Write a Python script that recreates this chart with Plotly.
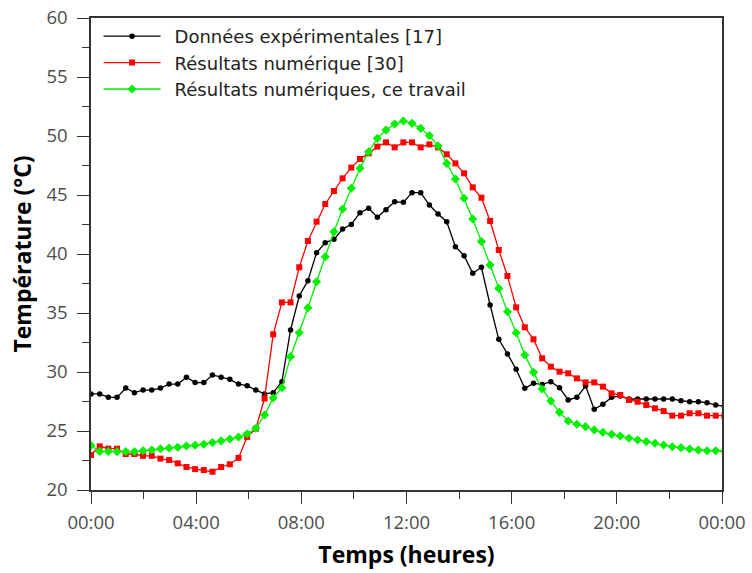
import plotly.graph_objects as go

# time in hours (sample spacing)
temps_h = [round(0.33 * i, 2) for i in range(74)]

donnees_exp = [
    28.14, 28.14, 27.85, 27.85, 28.64, 28.25, 28.47, 28.47, 28.64, 28.98,
    28.98, 29.55, 29.10, 29.10, 29.75, 29.55, 29.38, 28.98, 28.84, 28.47,
    28.14, 28.25, 29.18, 33.56, 36.44, 37.74, 40.11, 40.96, 41.24, 42.12,
    42.51, 43.50, 43.87, 43.11, 43.76, 44.43, 44.38, 45.20, 45.20, 44.15,
    43.39, 42.74, 40.62, 39.86, 38.36, 38.87, 35.68, 32.77, 31.53, 30.23,
    28.62, 29.04, 28.95, 29.18, 28.67, 27.63, 27.85, 28.81, 26.84, 27.26,
    27.85, 27.97, 27.71, 27.71, 27.71, 27.71, 27.71, 27.71, 27.57, 27.48,
    27.48, 27.40, 27.20, 27.10,
]

resultats_30 = [
    22.97, 23.70, 23.50, 23.50, 23.05, 23.05, 22.90, 22.90, 22.66, 22.54,
    22.26, 21.95, 21.77, 21.69, 21.55, 21.95, 22.18, 22.72, 24.50, 25.20,
    27.75, 33.19, 35.90, 35.90, 38.87, 41.10, 42.74, 44.24, 45.34, 46.41,
    47.32, 48.05, 48.53, 49.10, 49.46, 49.04, 49.46, 49.46, 49.04, 49.29,
    49.04, 48.45, 47.68, 46.84, 45.65, 44.77, 42.80, 40.34, 38.14, 35.48,
    33.79, 32.77, 31.16, 30.45, 30.03, 29.89, 29.46, 29.12, 29.12, 28.76,
    28.19, 28.05, 27.63, 27.48, 27.20, 26.92, 26.69, 26.30, 26.30, 26.50,
    26.50, 26.30, 26.30, 26.30,
]

ce_travail = [
    23.77, 23.27, 23.27, 23.25, 23.25, 23.25, 23.33, 23.39, 23.50, 23.56,
    23.62, 23.73, 23.80, 23.88, 24.03, 24.16, 24.32, 24.49, 24.76, 25.23,
    26.36, 27.80, 28.67, 31.30, 33.33, 35.45, 37.65, 39.77, 41.89, 43.81,
    45.57, 47.26, 48.67, 49.80, 50.51, 51.02, 51.27, 51.07, 50.65, 50.03,
    49.18, 47.68, 46.36, 44.72, 42.97, 41.05, 39.07, 37.09, 35.11, 33.33,
    31.44, 29.97, 28.56, 27.54, 26.58, 25.85, 25.57, 25.37, 25.08, 24.89,
    24.72, 24.58, 24.38, 24.24, 24.10, 23.96, 23.81, 23.67, 23.59, 23.47,
    23.39, 23.33, 23.33, 23.30,
]

x_tickvals = [0, 4, 8, 12, 16, 20, 24]
x_ticktext = ["00:00", "04:00", "08:00", "12:00", "16:00", "20:00", "00:00"]

series = [
    ("Données expérimentales [17]", donnees_exp, "#000000", "circle", 5.5),
    ("Résultats numérique [30]", resultats_30, "#ff0000", "square", 6),
    ("Résultats numériques, ce travail", ce_travail, "#00f000", "diamond", 7),
]

fig = go.Figure()
for name, vals, color, sym, size in series:
    fig.add_trace(go.Scatter(
        x=temps_h, y=vals, name="\u2002" + name, mode="lines+markers",
        line=dict(color=color, width=1.3),
        marker=dict(color=color, symbol=sym, size=size, line=dict(width=0)),
    ))

axis_common = dict(
    showline=True, linecolor="#333333", linewidth=1.5, mirror=True,
    ticks="outside", ticklen=12, tickwidth=1.2, tickcolor="#333333",
    showgrid=False, zeroline=False, automargin=False,
    tickfont=dict(family="Open Sans", size=18.5, color="#4d4d4d"),
)

title_font = dict(family="Open Sans", size=23, color="#000000", weight="bold")

fig.update_xaxes(
    range=[0, 24], tickvals=x_tickvals, ticktext=x_ticktext,
    minor=dict(dtick=2, tick0=0, ticks="outside", ticklen=7, tickcolor="#333333", tickwidth=1.2),
    title=dict(text="Temps (heures)", font=title_font, standoff=14),
    ticklabelstandoff=3,
    **axis_common,
)
fig.update_yaxes(
    range=[20, 60], tick0=20, dtick=5,
    minor=dict(dtick=2.5, tick0=20, ticks="outside", ticklen=7, tickcolor="#333333", tickwidth=1.2),
    title=dict(text="Température (°C)", font=title_font, standoff=8),
    ticklabelstandoff=6,
    **axis_common,
)

fig.update_layout(
    width=752, height=573,
    margin=dict(l=91, r=30, t=18, b=83),
    paper_bgcolor="white", plot_bgcolor="white",
    showlegend=True,
    legend=dict(
        x=0.012, y=1.0, xanchor="left", yanchor="top",
        bgcolor="rgba(255,255,255,0)", borderwidth=0,
        font=dict(family="DejaVu Sans", size=18, color="#222222"),
        itemwidth=57, tracegroupgap=0,
    ),
)

fig.write_html("out.html")
